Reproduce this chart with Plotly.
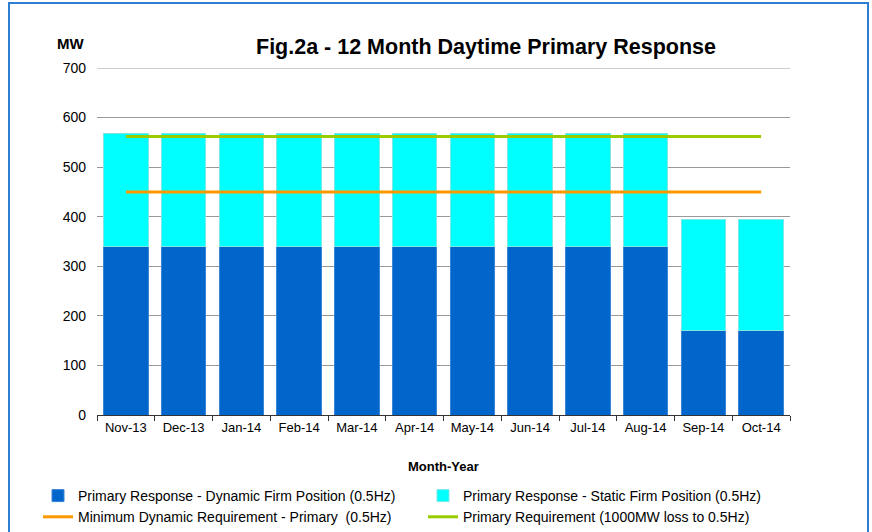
import plotly.graph_objects as go

months = ['Nov-13', 'Dec-13', 'Jan-14', 'Feb-14', 'Mar-14', 'Apr-14',
          'May-14', 'Jun-14', 'Jul-14', 'Aug-14', 'Sep-14', 'Oct-14']
dynamic_firm = [340, 340, 340, 340, 340, 340, 340, 340, 340, 340, 170, 170]
static_firm = [227, 227, 227, 227, 227, 227, 227, 227, 227, 227, 225, 225]
min_dynamic_req = [450] * 12
primary_req = [562] * 12
y_max = 700

font = 'Liberation Sans, Arial, sans-serif'

fig = go.Figure()
fig.add_trace(go.Bar(name='Primary Response - Dynamic Firm Position (0.5Hz)',
                     x=months, y=dynamic_firm, marker_color='#0066CC',
                     marker_line=dict(color='#3a86d6', width=1), legend='legend'))
fig.add_trace(go.Bar(name='Primary Response - Static Firm Position (0.5Hz)',
                     x=months, y=static_firm, marker_color='#00FFFF',
                     marker_line=dict(color='#7fe6e6', width=1), legend='legend2'))
fig.add_trace(go.Scatter(name='Minimum Dynamic Requirement - Primary  (0.5Hz)',
                         x=months, y=min_dynamic_req, mode='lines',
                         line=dict(color='#FF9900', width=3), legend='legend'))
fig.add_trace(go.Scatter(name='Primary Requirement (1000MW loss to 0.5Hz)',
                         x=months, y=primary_req, mode='lines',
                         line=dict(color='#99CC00', width=3), legend='legend2'))

legend_style = dict(xref='container', yref='container', xanchor='left', yanchor='top',
                    font=dict(size=14), traceorder='normal', itemwidth=30,
                    tracegroupgap=0, bgcolor='rgba(0,0,0,0)')

fig.update_layout(
    width=872, height=532,
    barmode='stack', bargap=0.23,
    plot_bgcolor='white', paper_bgcolor='white',
    margin=dict(l=97, r=82, t=68, b=117, autoexpand=False),
    font=dict(family=font, size=13, color='black'),
    title=dict(text='<b>Fig.2a - 12 Month Daytime Primary Response</b>',
               x=486 / 872, xanchor='center', xref='container',
               y=1 - 46 / 532, yanchor='middle', yref='container',
               font=dict(size=21.5, family=font)),
    legend=dict(x=38 / 872, y=1 - 480 / 532, **legend_style),
    legend2=dict(x=423 / 872, y=1 - 480 / 532, **legend_style),
    showlegend=True,
)

fig.update_xaxes(showgrid=False, showline=True, linecolor='#333333', linewidth=1,
                 ticks='outside', tickson='boundaries', ticklen=5, tickcolor='#333333',
                 tickfont=dict(size=13))
fig.update_yaxes(range=[0, y_max], dtick=100,
                 showgrid=True, gridcolor='#999999',
                 gridwidth=1, showline=False, zeroline=False,
                 ticks='', tickfont=dict(size=14), ticklabelstandoff=10)

# top gridline (plotly drops the one on the plot edge)
fig.add_shape(type='line', xref='paper', yref='y', x0=0, x1=1, y0=y_max, y1=y_max,
              line=dict(color='#999999', width=1), layer='below')

fig.add_annotation(text='<b>MW</b>', x=(70 - 97) / 693, y=(415.5 - 43) / 347.5,
                   xref='paper', yref='paper', xanchor='center', yanchor='middle',
                   showarrow=False, font=dict(size=15))
fig.add_annotation(text='<b>Month-Year</b>', x=(443 - 97) / 693, y=(415.5 - 467) / 347.5,
                   xref='paper', yref='paper', xanchor='center', yanchor='middle',
                   showarrow=False, font=dict(size=13))

# blue frame around the whole chart
fig.add_shape(type='rect', xref='paper', yref='paper',
              x0=(9 - 97) / 693, x1=(868 - 97) / 693,
              y0=(415.5 - 560) / 347.5, y1=(415.5 - 3) / 347.5,
              line=dict(color='#2E7FD4', width=2), fillcolor='rgba(0,0,0,0)')

fig.write_html("out.html", config={'displayModeBar': False},
               post_script="document.body.style.margin='0';")
